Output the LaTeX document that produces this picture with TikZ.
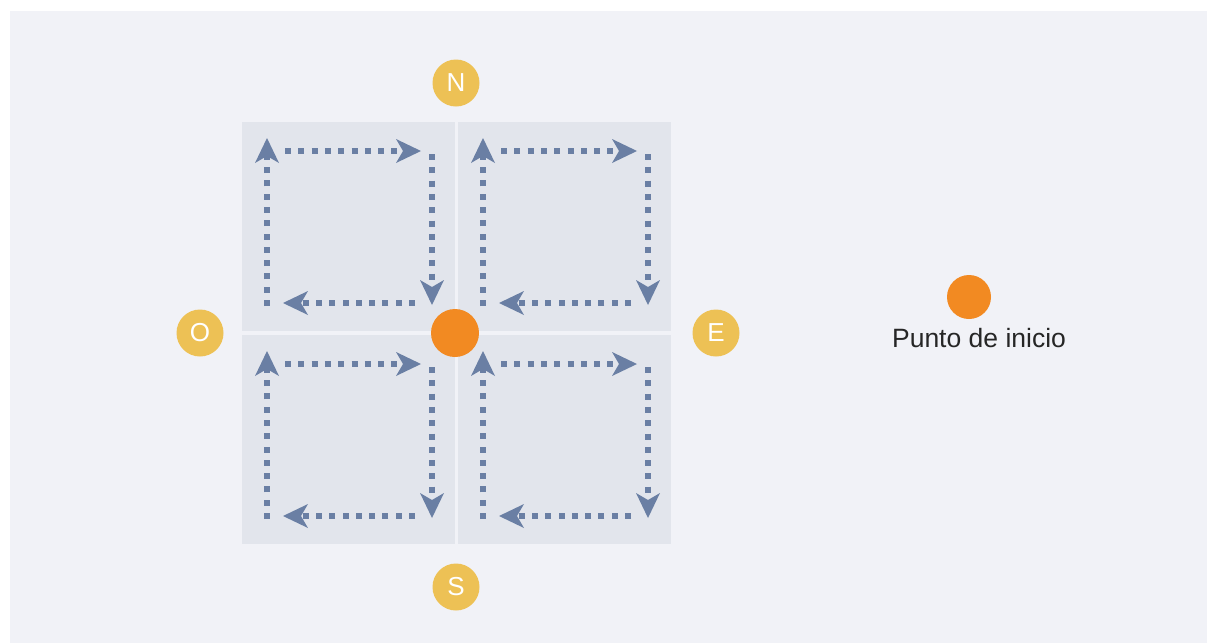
\documentclass[tikz,border=0pt]{standalone}
\usepackage{fontspec}
\setmainfont{Liberation Sans}
\usetikzlibrary{arrows.meta}
\definecolor{bgc}{HTML}{F1F2F7}
\definecolor{tilec}{HTML}{E2E5EC}
\definecolor{arrc}{HTML}{6A7FA4}
\definecolor{orangec}{HTML}{F28A22}
\definecolor{yellowc}{HTML}{EDC155}
\tikzset{
  tile/.style={fill=tilec, draw=none},
  flow/.style={draw=arrc, line width=5.5pt, dash pattern=on 6pt off 7.3pt,
    -{Stealth[length=25pt, width=24pt, inset=7pt, fill=arrc, line width=0pt]}},
  compass/.style={circle, fill=yellowc, minimum size=47pt, inner sep=0pt,
    text=white, font=\fontsize{26}{26}\selectfont},
  startpt/.style={circle, fill=orangec, inner sep=0pt},
  lbl/.style={font=\fontsize{26.5}{30}\selectfont, text=black!85, inner sep=0pt}
}
\newcommand{\tileflow}[3]{%
  \begin{scope}[shift={(#1,#2)}]
    \node[tile, minimum width=213pt, minimum height=209pt, inner sep=0pt, anchor=north west] (#3) at (0,0) {};
    \coordinate (#3u0) at (25,184); \coordinate (#3u1) at (25,16);
    \coordinate (#3r0) at (43,29);  \coordinate (#3r1) at (179,29);
    \coordinate (#3d0) at (190,32); \coordinate (#3d1) at (190,183);
    \coordinate (#3l0) at (173,181); \coordinate (#3l1) at (41,181);
    \draw[flow] (#3u0) -- (#3u1);
    \draw[flow] (#3r0) -- (#3r1);
    \draw[flow] (#3d0) -- (#3d1);
    \draw[flow] (#3l0) -- (#3l1);
  \end{scope}}
\begin{document}
\begin{tikzpicture}[x=1pt,y=-1pt]
\useasboundingbox (0,0) rectangle (1207,643);
\fill[white] (0,0) rectangle (1207,643);
\fill[bgc] (10,11) rectangle (1207,643);
\tileflow{242}{122}{tl}
\tileflow{458}{122}{tr}
\tileflow{242}{335}{bl}
\tileflow{458}{335}{br}
\node[startpt, minimum size=48pt] (start) at (455,333) {};
\node[compass] (N) at (456,83) {N};
\node[compass] (O) at (200,333) {O};
\node[compass] (E) at (716,333) {E};
\node[compass] (S) at (456,587) {S};
\node[startpt, minimum size=44pt] (legdot) at (969,297) {};
\node[lbl, anchor=base] (legtxt) at (979,347) {Punto de inicio};
\end{tikzpicture}
\end{document}
